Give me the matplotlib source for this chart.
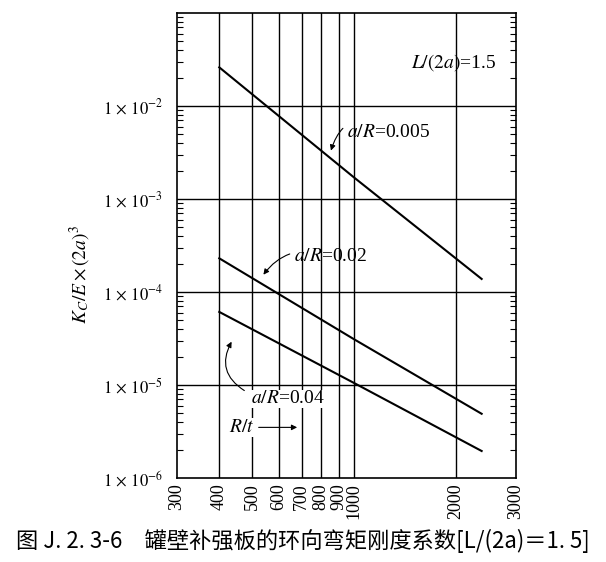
import numpy as np
import matplotlib
matplotlib.use("Agg")
import matplotlib.pyplot as plt
from matplotlib.ticker import FixedLocator, LogLocator, NullFormatter

plt.rcParams['font.family'] = ['Liberation Serif', 'DejaVu Serif']
plt.rcParams['mathtext.fontset'] = 'stix'

# R/t values (start, at 1000, end)
rt = [400, 1000, 2380]
# K_C/E x (2a)^3 for each a/R curve
k_005 = [2.6e-2, 1.7e-3, 1.38e-4]
k_02 = [2.3e-4, 3.1e-5, 4.9e-6]
k_04 = [6.1e-5, 1.05e-5, 1.95e-6]

x_ticks = [300, 400, 500, 600, 700, 800, 900, 1000, 2000, 3000]
x_grid = [400, 500, 600, 700, 800, 900, 1000, 2000]
y_grid = [1e-2, 1e-3, 1e-4, 1e-5]
y_ticks = [1e-6, 1e-5, 1e-4, 1e-3, 1e-2]
y_labels = [r'$1\,\times\,10^{-6}$', r'$1\,\times\,10^{-5}$', r'$1\,\times\,10^{-4}$',
            r'$1\,\times\,10^{-3}$', r'$1\,\times\,10^{-2}$']

fig = plt.figure(figsize=(6.06, 5.62), dpi=100)
ax = fig.add_axes([0.292, 0.1495, 0.559, 0.8275])
ax.set_xscale('log')
ax.set_yscale('log')
ax.set_xlim(300, 3000)
ax.set_ylim(1e-6, 1e-1)

for x in x_grid:
    ax.axvline(x, color='black', lw=1.0, zorder=1)
for y in y_grid:
    ax.axhline(y, color='black', lw=1.0, zorder=1)

for k in (k_005, k_02, k_04):
    ax.plot(rt, k, color='black', lw=1.5, zorder=3)

# x axis
ax.xaxis.set_major_locator(FixedLocator(x_ticks))
ax.xaxis.set_minor_locator(FixedLocator([]))
ax.set_xticklabels([str(v) for v in x_ticks], rotation=90, fontsize=13)
ax.tick_params(axis='x', which='major', length=0, pad=4)

# y axis
ax.yaxis.set_major_locator(FixedLocator(y_ticks))
ax.set_yticklabels(y_labels, fontsize=12)
ax.yaxis.set_minor_locator(LogLocator(base=10, subs=np.arange(2, 10)))
ax.yaxis.set_minor_formatter(NullFormatter())
ax.tick_params(axis='y', which='both', direction='in', left=True, right=True)
ax.tick_params(axis='y', which='major', length=0, pad=10)
ax.tick_params(axis='y', which='minor', length=4, width=0.8)

for s in ax.spines.values():
    s.set_linewidth(1.2)

ax.set_ylabel(r'$K_{C}/E\times(2a)^3$', fontsize=14)
ax.yaxis.set_label_coords(-0.248, 0.437)

# annotations
ax.text(2640, 0.029, r'$L/(2a)$=1.5', ha='right', va='center', fontsize=14)

arrow = dict(arrowstyle='-|>', color='black', lw=0.8, mutation_scale=8)
ax.annotate(r'$a/R$=0.005', xy=(850, 3.1e-3), xytext=(951, 5.2e-3),
            ha='left', va='center', fontsize=14,
            arrowprops=dict(arrow, connectionstyle='arc3,rad=0.7', shrinkA=1))
ax.annotate(r'$a/R$=0.02', xy=(534, 1.45e-4), xytext=(664, 2.38e-4),
            ha='left', va='center', fontsize=14,
            arrowprops=dict(arrow, connectionstyle='arc3,rad=0.4', shrinkA=1))
ax.annotate('', xy=(439, 3.1e-5), xytext=(482, 8.4e-6),
            arrowprops=dict(arrow, connectionstyle='arc3,rad=-0.5'))
ax.text(495, 7.07e-6, r'$a/R$=0.04', ha='left', va='center', fontsize=14,
        bbox=dict(facecolor='white', edgecolor='none', pad=0.5), zorder=4)
ax.text(427, 3.5e-6, r'$R/t$', ha='left', va='center', fontsize=14,
        bbox=dict(facecolor='white', edgecolor='none', pad=0.5), zorder=4)
ax.annotate('', xy=(692, 3.5e-6), xytext=(513, 3.5e-6),
            arrowprops=dict(arrowstyle='-|>', color='black', lw=0.8,
                            mutation_scale=8))

fig.text(0.5, 0.037, '图 J. 2. 3-6　罐壁补强板的环向弯矩刚度系数[L/(2a)＝1. 5]',
         ha='center', va='center', fontsize=16,
         family=['Noto Sans CJK SC', 'DejaVu Sans'])

fig.savefig('out.png', dpi=100)
